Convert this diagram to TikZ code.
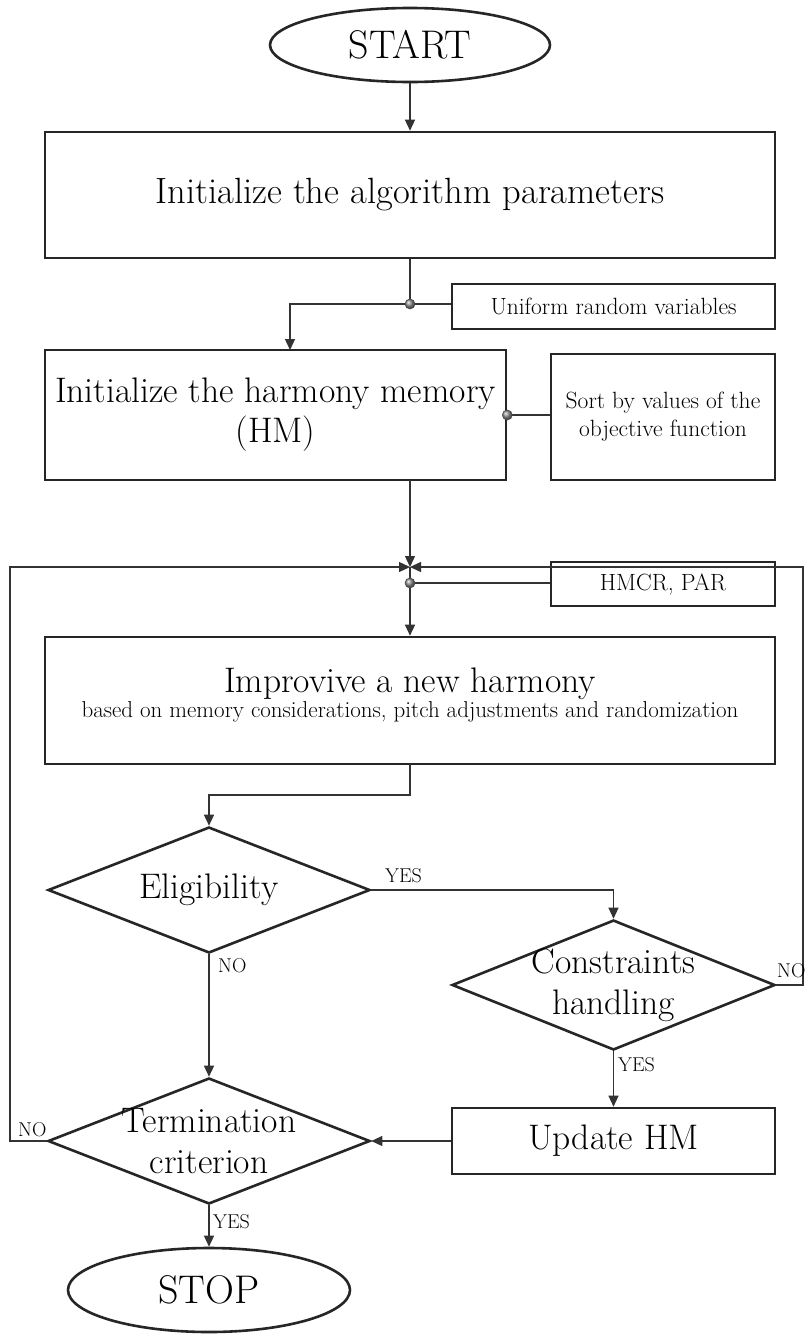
\documentclass[tikz,border=0pt]{standalone}
\usetikzlibrary{shapes.geometric,arrows.meta,calc}
\newcommand{\fbig}{\fontsize{35.5}{40}\selectfont}
\newcommand{\fbigA}{\fontsize{36.5}{42}\selectfont}
\newcommand{\fdec}{\fontsize{35.5}{41}\selectfont}
\newcommand{\fterm}{\fontsize{40}{46}\selectfont}
\newcommand{\fsmall}{\fontsize{23.5}{28}\selectfont}
\newcommand{\fsub}{\fontsize{23}{27}\selectfont}
\newcommand{\flab}{\fontsize{20}{24}\selectfont}
\begin{document}
\begin{tikzpicture}[x=1pt,y=-1pt,
  shapeline/.style={draw=black!85,line width=2.6pt},
  boxnode/.style={shapeline,rectangle,inner sep=0pt},
  termnode/.style={shapeline,ellipse,inner sep=0pt,font=\fterm},
  decnode/.style={shapeline,diamond,aspect=2.55,inner sep=-15pt,font=\fdec,align=center},
  conn/.style={draw=black!80,line width=1.3pt},
  arr/.style={conn,-{Triangle[length=11pt,width=10pt]}},
  ballnode/.style={circle,inner sep=0pt,minimum size=10pt,shading=ball,ball color=black!45,draw=black!70,line width=0.6pt},
  lab/.style={font=\flab,inner sep=0pt,anchor=base west}]
\useasboundingbox (0,0) rectangle (805,1339);
\fill[white] (0,0) rectangle (805,1339);

% nodes
\node[termnode,minimum width=280pt,minimum height=74pt] (start) at (410,45) {START};
\node[boxnode,minimum width=730pt,minimum height=126pt,font=\fbigA] (b1) at (410,195) {Initialize the algorithm parameters};
\node[boxnode,minimum width=323pt,minimum height=45pt,font=\fsmall] (rv) at (613.5,306.5) {Uniform random variables};
\node[boxnode,minimum width=461pt,minimum height=130pt,font=\fbig,align=center] (b2) at (275.5,415) {Initialize the harmony memory\\(HM)};
\node[boxnode,minimum width=224pt,minimum height=126pt,font=\fsmall,align=center] (so) at (663,417) {Sort by values of the\\objective function};
\node[boxnode,minimum width=224pt,minimum height=44pt,font=\fsmall] (hp) at (663,584) {HMCR, PAR};
\node[boxnode,minimum width=730pt,minimum height=127pt] (b3) at (410,700.5) {};
\node[font=\fbig,inner sep=0pt,anchor=base] (b3t) at (410,692) {Improvive a new harmony};
\node[font=\fsub,inner sep=0pt,anchor=base] (b3s) at (410,717) {based on memory considerations, pitch adjustments and randomization};
\node[decnode,minimum width=322pt,minimum height=126pt] (elig) at (209,890) {Eligibility};
\node[decnode,minimum width=323pt,minimum height=130pt] (cons) at (613.5,985) {Constraints\\handling};
\node[boxnode,minimum width=323pt,minimum height=66pt,font=\fbig] (upd) at (613.5,1141) {Update HM};
\node[decnode,minimum width=322pt,minimum height=126pt] (term) at (209,1141) {Termination\\criterion};
\node[termnode,minimum width=282pt,minimum height=84pt] (stop) at (209,1290) {STOP};

% helper coordinates
\coordinate (c1) at (410,304);
\coordinate (b2in) at (290,350);
\coordinate (b2out) at (410,480);
\coordinate (merge) at (410,567);
\coordinate (c2) at (410,583);
\coordinate (b3out) at (410,764);
\coordinate (lx) at (10,567);
\coordinate (rx) at (803,567);

% connectors
\draw[arr] (start.south) -- (b1.north);
\draw[arr] (b1.south) -- (c1) -| (b2in);
\draw[conn] (c1) -- (c1 -| rv.west);
\draw[conn] (b2.east) -- (b2.east -| so.west);
\draw[arr] (b2out) -- (merge);
\draw[arr] (term.west) -| (lx) -- (merge);
\draw[arr] (cons.east) -| (rx) -- (merge);
\draw[arr] (merge) -- (c2) -- (b3.north);
\draw[conn] (c2) -- (c2 -| hp.west);
\draw[arr] (b3out) -- ++(0,31) -| (elig.north);
\draw[arr] (elig.east) -| (cons.north);
\draw[arr] (elig.south) -- (term.north);
\draw[arr] (cons.south) -- (upd.north);
\draw[arr] (upd.west) -- (term.east);
\draw[arr] (term.south) -- (stop.north);

% balls
\node[ballnode] (k1) at (c1) {};
\node[ballnode] (k2) at (b2.east) {};
\node[ballnode] (k3) at (c2) {};

% labels
\node[lab] (l1) at (385,882) {YES};
\node[lab] (l2) at (218,972) {NO};
\node[lab] (l3) at (777,977) {NO};
\node[lab] (l4) at (618,1071) {YES};
\node[lab] (l5) at (18,1136) {NO};
\node[lab] (l6) at (213,1228) {YES};
\end{tikzpicture}
\end{document}
